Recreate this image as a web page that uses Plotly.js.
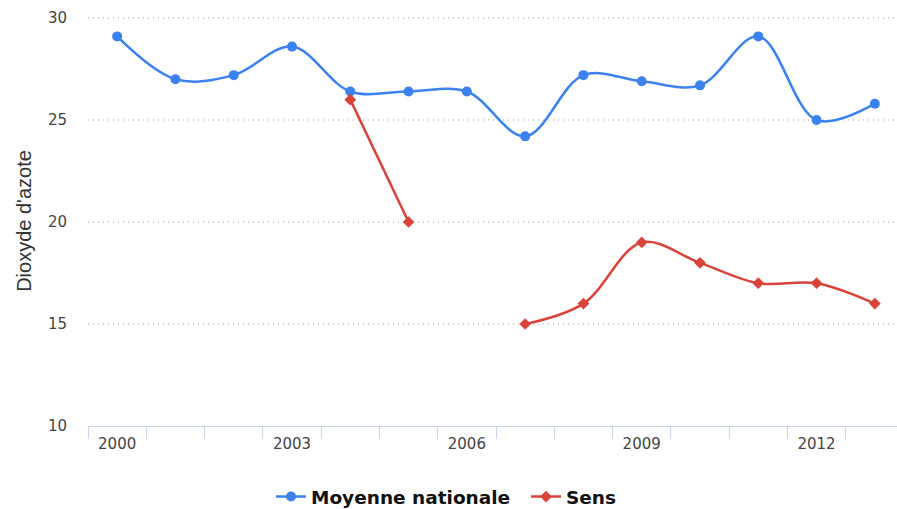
<!DOCTYPE html>
<html>
<head>
<meta charset="utf-8">
<script src="https://cdn.plot.ly/plotly-3.0.1.min.js"></script>
<style>html,body{margin:0;padding:0;background:#fff}#chart{width:897px;height:509px}</style>
</head>
<body>
<div id="chart"></div>
<script>
const years = [2000,2001,2002,2003,2004,2005,2006,2007,2008,2009,2010,2011,2012,2013];
const moyenne = [29.1,27.0,27.2,28.6,26.4,26.4,26.4,24.2,27.2,26.9,26.7,29.1,25.0,25.8];
const sens = [null,null,null,null,26,20,null,15,16,19,18,17,17,16];
const xTickLabels = ['2000','2003','2006','2009','2012'];
const xTickVals = [2000,2003,2006,2009,2012];
const yTickVals = [10,15,20,25,30];
const boundaryTicks = years.map(y => y - 0.5);

const tickFont = {size: 15, color: '#444', family: '"DejaVu Sans", sans-serif'};
const legendFont = {size: 18.5, color: '#111', family: '"DejaVu Sans", sans-serif', weight: 'bold'};

const traces = [
  {x: years, y: moyenne, name: 'Moyenne nationale', type: 'scatter', mode: 'lines+markers',
   legend: 'legend',
   line: {color: '#3b82ee', width: 2.5, shape: 'spline', smoothing: 1},
   marker: {symbol: 'circle', size: 10, color: '#3b82ee'}},
  {x: years, y: sens, name: 'Sens', type: 'scatter', mode: 'lines+markers',
   legend: 'legend2', connectgaps: false,
   line: {color: '#d8433a', width: 2.5, shape: 'spline', smoothing: 1},
   marker: {symbol: 'diamond', size: 9, color: '#d8433a'}},
  {x: [1999.5], y: [10], xaxis: 'x2', showlegend: false, hoverinfo: 'skip', mode: 'markers',
   marker: {opacity: 0}}
];

const layout = {
  width: 897, height: 509,
  margin: {l: 88, r: 0, t: 16, b: 83, autoexpand: false},
  paper_bgcolor: '#fff', plot_bgcolor: '#fff',
  font: {family: '"DejaVu Sans", sans-serif', color: '#444'},
  xaxis: {
    range: [1999.5, 2013.38], tickvals: xTickVals, ticktext: xTickLabels,
    ticks: '', showgrid: false, zeroline: false,
    showline: true, linecolor: '#ccd6eb', linewidth: 1,
    tickfont: tickFont, ticklabelstandoff: 4
  },
  xaxis2: {
    overlaying: 'x', range: [1999.5, 2013.38], tickvals: boundaryTicks,
    showticklabels: false, ticks: 'outside', ticklen: 12, tickcolor: '#ccd6eb',
    showgrid: false, zeroline: false, showline: false, anchor: 'y'
  },
  yaxis: {
    range: [10, 30.1], tickvals: yTickVals, ticks: '',
    showgrid: true, gridcolor: '#cfcfcf', griddash: '1px,4px', gridwidth: 1.5,
    zeroline: false, showline: false,
    tickfont: tickFont, ticklabelstandoff: 20,
    title: {text: "Dioxyde d'azote", font: {size: 20, color: '#333', family: '"Liberation Sans", Arial, sans-serif'}, standoff: 10}
  },
  legend: {
    orientation: 'h', xref: 'container', yref: 'container',
    x: 271/897, xanchor: 'left', y: 12/509, yanchor: 'middle',
    font: legendFont, itemwidth: 30, bgcolor: 'rgba(0,0,0,0)'
  },
  legend2: {
    orientation: 'h', xref: 'container', yref: 'container',
    x: 526/897, xanchor: 'left', y: 12/509, yanchor: 'middle',
    font: legendFont, itemwidth: 30, bgcolor: 'rgba(0,0,0,0)'
  },
  showlegend: true,
  hovermode: false
};

Plotly.newPlot('chart', traces, layout, {displayModeBar: false, staticPlot: true});
</script>
</body>
</html>
